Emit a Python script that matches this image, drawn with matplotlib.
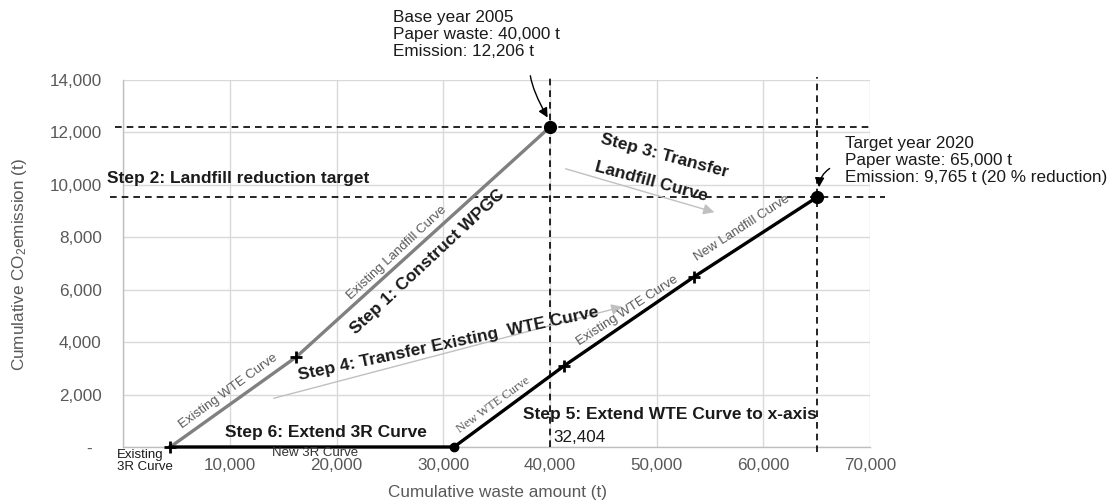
import matplotlib
matplotlib.use('Agg')
import matplotlib.pyplot as plt
from matplotlib.ticker import FixedLocator, FuncFormatter

plt.rcParams['font.family'] = ['Liberation Sans', 'DejaVu Sans']
plt.rcParams['mathtext.fontset'] = 'custom'
plt.rcParams['mathtext.rm'] = 'Liberation Sans'
plt.rcParams['mathtext.it'] = 'Liberation Sans:italic'

# ---------------- data ----------------
x_ticks = [0, 10000, 20000, 30000, 40000, 50000, 60000, 70000]
y_ticks = [0, 2000, 4000, 6000, 8000, 10000, 12000, 14000]

existing_x = [4400, 16200, 40000]          # existing WTE + landfill curve (grey)
existing_y = [0, 3430, 12206]
new_x = [4400, 31000, 41300, 53500, 65000]  # new 3R + WTE + landfill curve (black)
new_y = [0, 0, 3090, 6490, 9520]

base_x, base_y = 40000, 12206
target_x, target_y = 65000, 9520

W, H, DPI = 1118, 503, 100
fig = plt.figure(figsize=(W / DPI, H / DPI), dpi=DPI)
ax = fig.add_axes([123.3 / W, 1 - 447 / H, (870 - 123.3) / W, (447 - 80) / H])


def F(px, py):
    return (px / W, 1 - py / H)


grey_txt = '#595959'
ax.set_xlim(0, 70000)
ax.set_ylim(0, 14000)
ax.xaxis.set_major_locator(FixedLocator(x_ticks))
ax.yaxis.set_major_locator(FixedLocator(y_ticks))
ax.xaxis.set_major_formatter(FuncFormatter(lambda v, p: '' if v == 0 else f'{int(v):,}'))
ax.yaxis.set_major_formatter(FuncFormatter(lambda v, p: '-  ' if v == 0 else f'{int(v):,}'))
ax.tick_params(axis='both', length=0, labelsize=12.3, labelcolor=grey_txt)
ax.tick_params(axis='x', pad=8)
ax.tick_params(axis='y', pad=15.5)
ax.grid(True, color='#d9d9d9', lw=1)
ax.set_axisbelow(True)
for s in ['top', 'right']:
    ax.spines[s].set_visible(False)
for s in ['left', 'bottom']:
    ax.spines[s].set_color('#bfbfbf')
    ax.spines[s].set_linewidth(1)

# dashed reference lines
dash = dict(color='black', lw=1.2, ls=(0, (4, 3)), clip_on=False, zorder=3)
ax.plot([-750, 70000], [base_y, base_y], **dash)
ax.plot([-1250, 71400], [target_y, target_y], **dash)
ax.plot([base_x, base_x], [0, 14200], **dash)
ax.plot([target_x, target_x], [-200, 14100], **dash)

# curves
ax.plot(existing_x, existing_y, color='#808080', lw=2.4, zorder=4, solid_capstyle='butt')
ax.plot(new_x, new_y, color='black', lw=2.4, zorder=5, clip_on=False)

# markers
ax.plot([existing_x[0], existing_x[1]], [existing_y[0], existing_y[1]], ls='none', marker='+',
        ms=8, mew=2, color='black', zorder=6, clip_on=False)
ax.plot(new_x[2:4], new_y[2:4], ls='none', marker='+', ms=8, mew=2, color='black', zorder=6)
ax.plot([new_x[1]], [new_y[1]], ls='none', marker='o', ms=6, color='black', zorder=6, clip_on=False)
ax.plot([base_x, target_x], [base_y, target_y], ls='none', marker='o', ms=8.5, color='black',
        zorder=7, clip_on=False)

# axis labels
fig.text(*F(497, 492), 'Cumulative waste amount (t)', ha='center', va='center',
         fontsize=12.3, color=grey_txt)
fig.text(*F(20, 265), 'Cumulative CO$_2$emission (t)', ha='center', va='center',
         rotation=90, fontsize=12.3, color=grey_txt)

# annotations (text blocks)
fig.text(*F(393, 10), 'Base year 2005\nPaper waste: 40,000 t\nEmission: 12,206 t',
         ha='left', va='top', fontsize=12.3, linespacing=1.15, color='#1a1a1a')
fig.text(*F(845, 136), 'Target year 2020\nPaper waste: 65,000 t\nEmission: 9,765 t (20 % reduction)',
         ha='left', va='top', fontsize=12.3, linespacing=1.15, color='#1a1a1a')

bold = dict(fontsize=12.5, fontweight='bold', color='#1a1a1a')
fig.text(*F(107, 179), 'Step 2: Landfill reduction target', ha='left', va='center', **bold)
fig.text(*F(225, 433), 'Step 6: Extend 3R Curve', ha='left', va='center', **bold)
fig.text(*F(523, 414), 'Step 5: Extend WTE Curve to x-axis', ha='left', va='center', **bold)
fig.text(*F(428, 262), 'Step 1: Construct WPGC', ha='center', va='center', rotation=43,
         rotation_mode='anchor', **bold)
fig.text(*F(448, 344), 'Step 4: Transfer Existing  WTE Curve', ha='center', va='center',
         rotation=12, rotation_mode='anchor', **bold)
fig.text(*F(664, 156), 'Step 3: Transfer', ha='center', va='center',
         rotation=-15, rotation_mode='anchor', **bold)
fig.text(*F(651, 182), 'Landfill Curve', ha='center', va='center',
         rotation=-15, rotation_mode='anchor', **bold)

fig.text(*F(553, 437), '32,404', ha='left', va='center', fontsize=12.3, color='#1a1a1a')
fig.text(*F(117, 461), 'Existing\n3R Curve', ha='left', va='center', fontsize=9.5,
         linespacing=1.0, color='#1a1a1a')
fig.text(*F(272, 453), 'New 3R Curve', ha='left', va='center', fontsize=9.5, color='#333333')

small = dict(fontsize=9.5, color=grey_txt, ha='center', va='center', rotation_mode='anchor')
fig.text(*F(228, 391), 'Existing WTE Curve', rotation=36, **small)
fig.text(*F(397, 253), 'Existing Landfill Curve', rotation=43, **small)
fig.text(*F(627, 311), 'Existing WTE Curve', rotation=33, **small)
fig.text(*F(742, 228), 'New Landfill Curve', rotation=33, **small)
fig.text(*F(493, 405), 'New WTE Curve', rotation=36, family='Liberation Serif',
         fontsize=9, color=grey_txt, ha='center', va='center', rotation_mode='anchor')

# arrows
gprops = dict(arrowstyle='-|>', color='#c0c0c0', lw=1.0, mutation_scale=16)
ax.annotate('', xy=F(717, 213), xytext=F(563, 168), xycoords='figure fraction',
            textcoords='figure fraction', arrowprops=gprops)
ax.annotate('', xy=F(625, 306), xytext=F(271, 399), xycoords='figure fraction',
            textcoords='figure fraction', arrowprops=gprops)
bprops = dict(arrowstyle='-|>', color='black', lw=1.0, mutation_scale=14)
ax.annotate('', xy=F(549, 120), xytext=F(530, 73), xycoords='figure fraction',
            textcoords='figure fraction',
            arrowprops=dict(connectionstyle='angle3,angleA=-85,angleB=-60', **bprops))
ax.annotate('', xy=F(819, 190), xytext=F(832, 167), xycoords='figure fraction',
            textcoords='figure fraction',
            arrowprops=dict(connectionstyle='arc3,rad=0.3', **bprops))

fig.savefig('out.png', dpi=DPI)
